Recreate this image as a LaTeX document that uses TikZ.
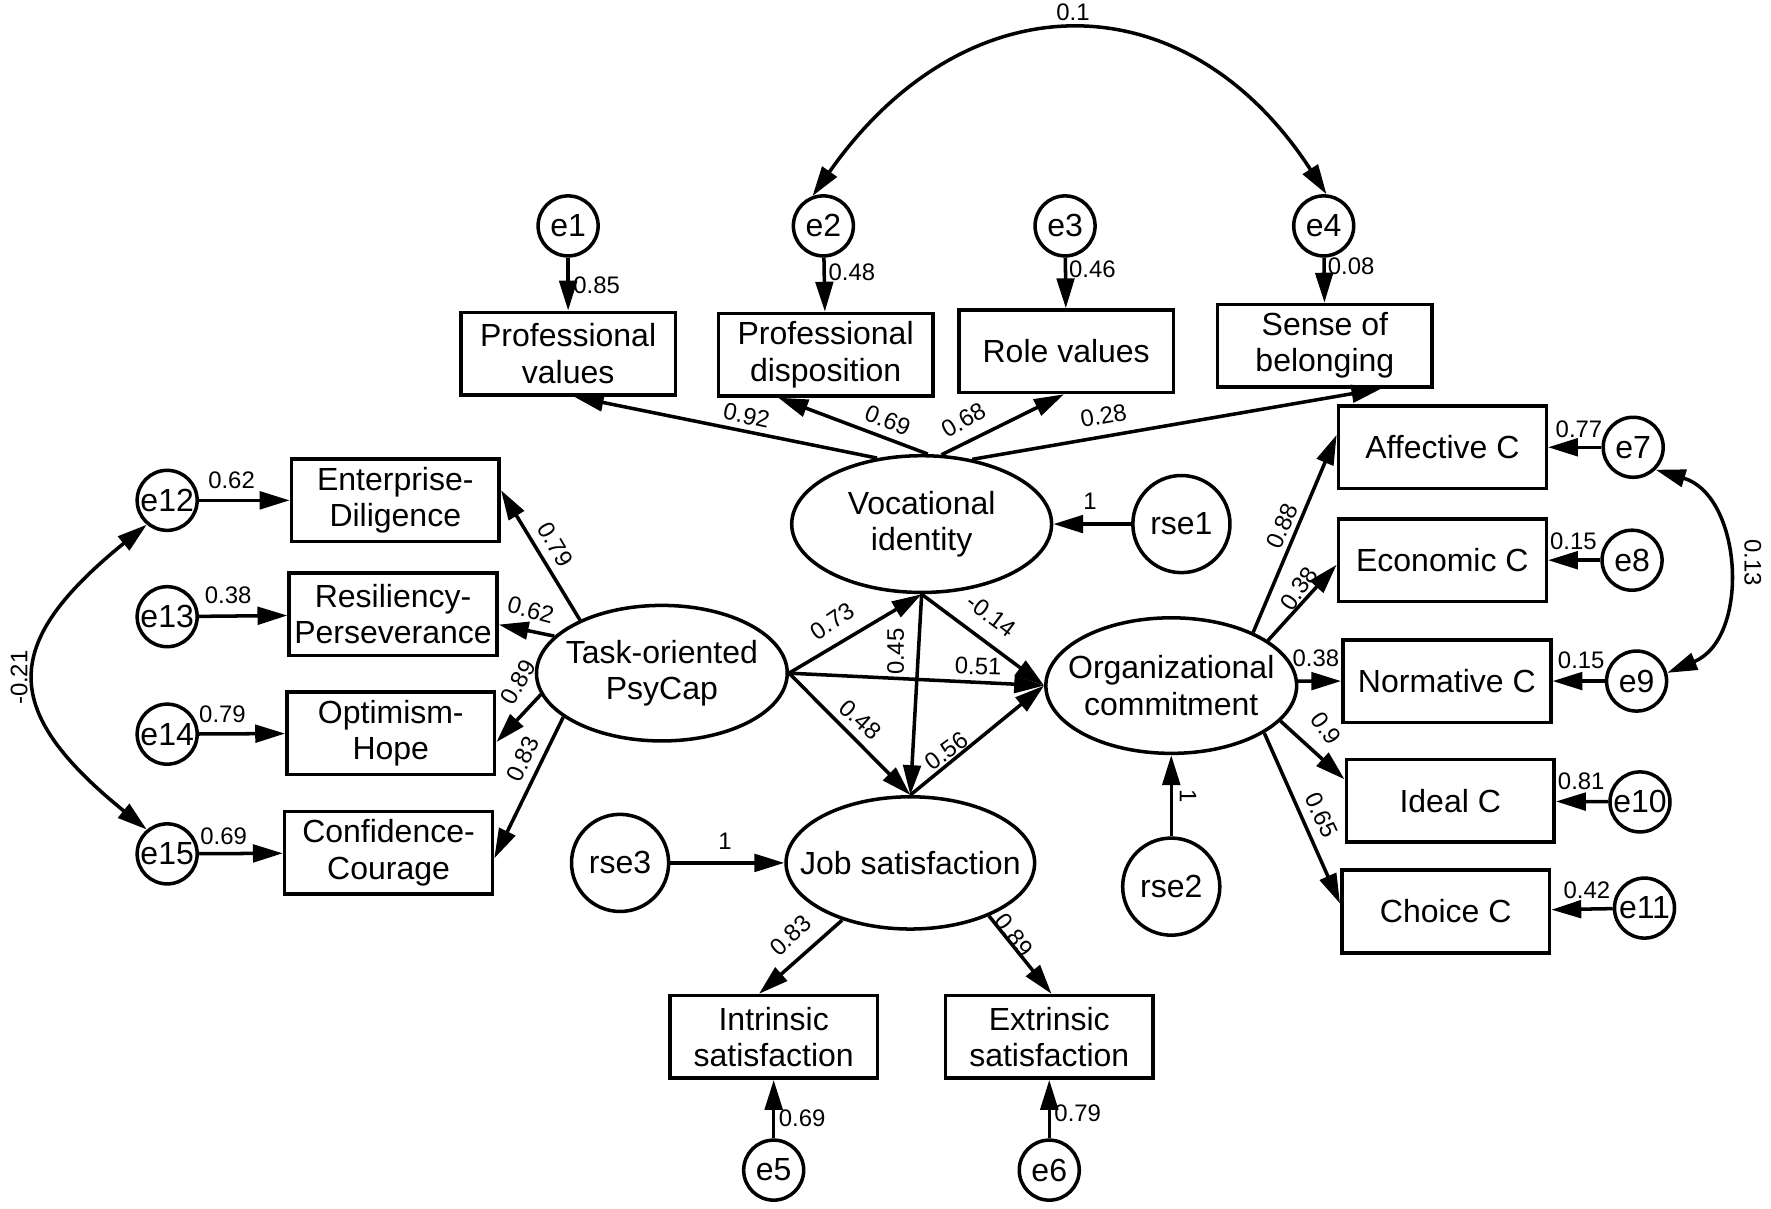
\documentclass[tikz,border=0pt]{standalone}
\usepackage{fontspec}
\setmainfont{Liberation Sans}
\usetikzlibrary{shapes.geometric,arrows.meta,calc}
\begin{document}
\begin{tikzpicture}[x=0.011295cm,y=-0.011295cm,
  every node/.style={inner sep=0pt},
  lw/.style={line width=1pt},
  txt/.style={font=\fontsize{9.1}{10.3}\selectfont},
  box/.style={draw,lw,rectangle,minimum width=2.078cm,minimum height=0.825cm,align=center,txt},
  topbox/.style={box,minimum width=2.146cm},
  err/.style={draw,lw,circle,minimum size=0.6cm,txt},
  rse/.style={draw,lw,circle,minimum size=0.971cm,txt},
  lat/.style={draw,lw,ellipse},
  lattext/.style={align=center,txt},
  arr/.style={lw,-{Triangle[length=8.5pt,width=5pt]}},
  dbl/.style={lw,{Triangle[length=8.5pt,width=5pt]}-{Triangle[length=8.5pt,width=5pt]}},
  num/.style={font=\fontsize{6.8}{7}\selectfont},
]
\useasboundingbox[fill=white] (0,0) rectangle (1568,1070);

% ---- top row
\node[err] (e1) at (503,200) {e1};
\node[err] (e2) at (729,200) {e2};
\node[err] (e3) at (943,200) {e3};
\node[err] (e4) at (1172,200) {e4};
\node[topbox] (pv) at (503,313) {Professional\\values};
\node[topbox] (pd) at (731,314) {Professional\\disposition};
\node[topbox] (rv) at (944,311) {Role values};
\node[topbox] (sb) at (1173,306) {Sense of\\belonging};

% ---- latent variables
\node[lat,minimum width=2.598cm,minimum height=1.367cm] (voc) at (816,464) {};
\node[lattext] (voct) at (voc) {Vocational\\identity};
\node[lat,minimum width=2.507cm,minimum height=1.355cm] (psy) at (586,596) {};
\node[lattext] (psyt) at (psy) {Task-oriented\\PsyCap};
\node[lat,minimum width=2.507cm,minimum height=1.355cm] (org) at (1037,607) {};
\node[lattext] (orgt) at (org) {Organizational\\commitment};
\node[lat,minimum width=2.485cm,minimum height=1.322cm] (job) at (806,764) {};
\node[lattext] (jobt) at (job) {Job satisfaction};

\node[rse] (rse1) at (1046,464) {rse1};
\node[rse] (rse2) at (1037,785) {rse2};
\node[rse] (rse3) at (549,764) {rse3};

% ---- left side
\node[box] (ent) at (350,443) {Enterprise-\\Diligence};
\node[box] (res) at (348,544) {Resiliency-\\Perseverance};
\node[box] (opt) at (346,649) {Optimism-\\Hope};
\node[box] (con) at (344,755) {Confidence-\\Courage};
\node[err] (e12) at (148,443) {e12};
\node[err] (e13) at (148,546) {e13};
\node[err] (e14) at (148,650) {e14};
\node[err] (e15) at (148,756) {e15};

% ---- right side
\node[box] (aff) at (1277,396) {Affective C};
\node[box] (eco) at (1277,496) {Economic C};
\node[box] (nor) at (1281,603) {Normative C};
\node[box] (ide) at (1284,709) {Ideal C};
\node[box] (cho) at (1280,807) {Choice C};
\node[err] (e7) at (1446,396) {e7};
\node[err] (e8) at (1445,496) {e8};
\node[err] (e9) at (1449,603) {e9};
\node[err] (e10) at (1452,710) {e10};
\node[err] (e11) at (1456,804) {e11};

% ---- bottom
\node[box] (int) at (685,918) {Intrinsic\\satisfaction};
\node[box] (ext) at (929,918) {Extrinsic\\satisfaction};
\node[err] (e5) at (685,1036) {e5};
\node[err] (e6) at (929,1036) {e6};

% ================= connectors
% errors top
\draw[arr] (e1) -- (pv);
\draw[arr] (e2) -- (pd);
\draw[arr] (e3) -- (rv);
\draw[arr] (e4) -- (sb);
\draw[dbl] (e2.110) .. controls (855,-20) and (1050,-20) .. (e4.85);

% vocational loadings
\draw[arr] (voc.124) -- ($(pv.south)+(5,0)$);
\draw[arr] (voc.85) -- ($(pd.south)+(-42,0)$);
\draw[arr] (voc.74) -- ($(rv.south)+(-2,0)$);
\draw[arr] (voc.52) -- ($(sb.south)+(50,0)$);
\draw[arr] (rse1) -- (voc);

% psycap loadings
\draw[arr] (psy.147) -- ($(ent.east)+(0,-9)$);
\draw[arr] (psy.161) -- ($(res.east)+(0,9)$);
\draw[arr] (psy.190) -- ($(opt.east)+(0,8)$);
\draw[arr] (psy.204) -- ($(con.east)+(0,5)$);
\draw[arr] (e12) -- (ent);
\draw[arr] (e13) -- (res);
\draw[arr] (e14) -- (opt);
\draw[arr] (e15) -- (con);
\draw[dbl] (e12.-130) .. controls (0,570) and (0,629) .. (e15.130);

% structural paths
\draw[arr] (psy.east) -- (voc.south);
\draw[arr] (psy.east) -- (org.west);
\draw[arr] (psy.east) -- (job.north);
\draw[arr] (voc.south) -- (job.north);
\draw[arr] (voc.south) -- (org.west);
\draw[arr] (job.north) -- (org.west);
\draw[arr] (rse3) -- (job);
\draw[arr] (rse2) -- (org);

% org loadings
\draw[arr] (org.33) -- ($(aff.west)+(0,-11)$);
\draw[arr] (org.25) -- ($(eco.west)+(0,4)$);
\draw[arr] (org.2) -- (nor.west);
\draw[arr] (org.-18) -- ($(ide.west)+(0,-19)$);
\draw[arr] (org.-27) -- ($(cho.west)+(0,-7)$);
\draw[arr] (e7) -- (aff);
\draw[arr] (e8) -- (eco);
\draw[arr] (e9) -- (nor);
\draw[arr] (e10) -- (ide);
\draw[arr] (e11) -- (cho);
\draw[dbl] (e7.-45) .. controls (1543,439) and (1550,565) .. (e9.15);

% job loadings
\draw[arr] (job.-140) -- ($(int.north)+(-13,0)$);
\draw[arr] (job.-34) -- ($(ext.north)+(2,0)$);
\draw[arr] (e5) -- (int);
\draw[arr] (e6) -- (ext);

% ================= labels
\node[num] (l01) at (950,11) {0.1};
\node[num,anchor=west] (l085) at (507,253) {0.85};
\node[num,anchor=west] (l048a) at (733,241) {0.48};
\node[num,anchor=west] (l046) at (946,238) {0.46};
\node[num,anchor=west] (l008) at (1175,236) {0.08};
\node[num,rotate=-12] (l092) at (661,368) {0.92};
\node[num,rotate=-22] (l069a) at (786,372) {0.69};
\node[num,rotate=30] (l068) at (853,372) {0.68};
\node[num,rotate=10] (l028) at (977,368) {0.28};
\node[num] (l1a) at (965,444) {1};

\node[num] (l062a) at (205,425) {0.62};
\node[num] (l038a) at (202,527) {0.38};
\node[num] (l079a) at (197,632) {0.79};
\node[num] (l069b) at (198,740) {0.69};
\node[num,rotate=90] (l021) at (17,600) {-0.21};
\node[num,rotate=-60] (l079b) at (492,482) {0.79};
\node[num,rotate=-15] (l062b) at (470,540) {0.62};
\node[num,rotate=60] (l089a) at (459,604) {0.89};
\node[num,rotate=65] (l083a) at (463,672) {0.83};

\node[num,rotate=34] (l073) at (737,550) {0.73};
\node[num,rotate=90] (l045) at (793,577) {0.45};
\node[num,rotate=-37] (l014) at (878,545) {-0.14};
\node[num,rotate=-2] (l051) at (866,590) {0.51};
\node[num,rotate=-42] (l048b) at (762,637) {0.48};
\node[num,rotate=36] (l056) at (838,665) {0.56};
\node[num] (l1b) at (642,745) {1};
\node[num,rotate=-90] (l1c) at (1052,705) {1};

\node[num,rotate=43] (l083b) at (700,828) {0.83};
\node[num,rotate=-52] (l089b) at (898,828) {0.89};
\node[num,anchor=west] (l069c) at (689,990) {0.69};
\node[num,anchor=west] (l079c) at (933,986) {0.79};

\node[num,rotate=66] (l088) at (1135,466) {0.88};
\node[num,rotate=55] (l038b) at (1150,521) {0.38};
\node[num] (l038c) at (1165,583) {0.38};
\node[num,rotate=-55] (l09) at (1174,645) {0.9};
\node[num,rotate=-65] (l065) at (1170,722) {0.65};
\node[num] (l077) at (1398,380) {0.77};
\node[num] (l015a) at (1393,479) {0.15};
\node[num] (l015b) at (1400,585) {0.15};
\node[num] (l081) at (1400,692) {0.81};
\node[num] (l042) at (1405,788) {0.42};
\node[num,rotate=-90] (l013) at (1552,498) {0.13};
\end{tikzpicture}
\end{document}
